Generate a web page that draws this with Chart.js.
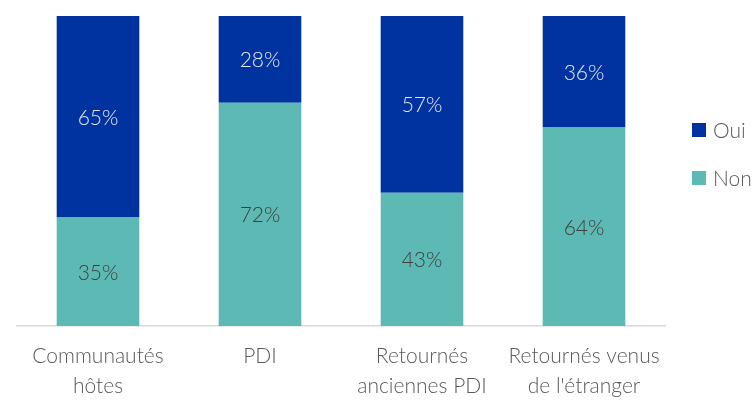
<!DOCTYPE html>
<html><head><meta charset="utf-8">
<script src="https://cdn.jsdelivr.net/npm/chart.js@4/dist/chart.umd.min.js"></script>
<style>html,body{margin:0;padding:0;background:#fff;}#wrap{width:756px;height:402px;position:relative;}</style>
</head><body><div id="wrap"><canvas id="c"></canvas></div>
<script>
const categories = [["Communautés","hôtes"],"PDI",["Retournés","anciennes PDI"],["Retournés venus","de l'étranger"]];
const nonValues = [35, 72, 43, 64];
const ouiValues = [65, 28, 57, 36];
const seriesNames = ["Non", "Oui"];
const colors = { non: "#5cb9b3", oui: "#0033a0" };
const FONT = "Lato, 'Open Sans', sans-serif";
const FS = 21;

const labelsPlugin = {
  id: 'valLabels',
  afterDatasetsDraw(chart) {
    const ctx = chart.ctx;
    ctx.save();
    ctx.font = "300 " + FS + "px " + FONT;
    ctx.textAlign = 'center';
    ctx.textBaseline = 'middle';
    chart.data.datasets.forEach((ds, i) => {
      const meta = chart.getDatasetMeta(i);
      meta.data.forEach((bar, j) => {
        const y = (bar.y + bar.base) / 2;
        ctx.fillStyle = i === 1 ? '#e6e8f2' : '#404040';
        ctx.fillText(ds.data[j] + '%', bar.x, y + 1);
      });
    });
    ctx.restore();
  }
};

const legendPlugin = {
  id: 'customLegend',
  afterDraw(chart) {
    const ctx = chart.ctx;
    ctx.save();
    ctx.font = "300 " + FS + "px " + FONT;
    ctx.textBaseline = 'middle';
    const order = [1, 0];
    const x = 692;
    const ys = [130, 178];
    order.forEach((di, k) => {
      const ds = chart.data.datasets[di];
      ctx.fillStyle = ds.backgroundColor;
      ctx.fillRect(x, ys[k] - 7, 14, 14);
      ctx.fillStyle = '#595959';
      ctx.fillText(ds.label, x + 21, ys[k] + 1);
    });
    ctx.restore();
  }
};

new Chart(document.getElementById('c'), {
  type: 'bar',
  data: {
    labels: categories,
    datasets: [
      { label: seriesNames[0], data: nonValues, backgroundColor: colors.non, barPercentage: 0.51, categoryPercentage: 1 },
      { label: seriesNames[1], data: ouiValues, backgroundColor: colors.oui, barPercentage: 0.51, categoryPercentage: 1 }
    ]
  },
  options: {
    responsive: true,
    maintainAspectRatio: false,
    animation: false,
    layout: { padding: { left: 17, right: 91, top: 16, bottom: 0 } },
    plugins: { legend: { display: false }, tooltip: { enabled: false } },
    scales: {
      x: {
        stacked: true,
        grid: { display: false, drawTicks: false },
        border: { display: true, color: '#d9d9d9', width: 1.5 },
        ticks: { color: '#595959', font: { family: FONT, size: FS, weight: '300', lineHeight: 1.45 }, padding: 15, maxRotation: 0, autoSkip: false },
        afterFit(s) { s.height = 76; }
      },
      y: {
        stacked: true,
        display: false,
        min: 0, max: 100
      }
    }
  },
  plugins: [labelsPlugin, legendPlugin]
});
</script></body></html>
